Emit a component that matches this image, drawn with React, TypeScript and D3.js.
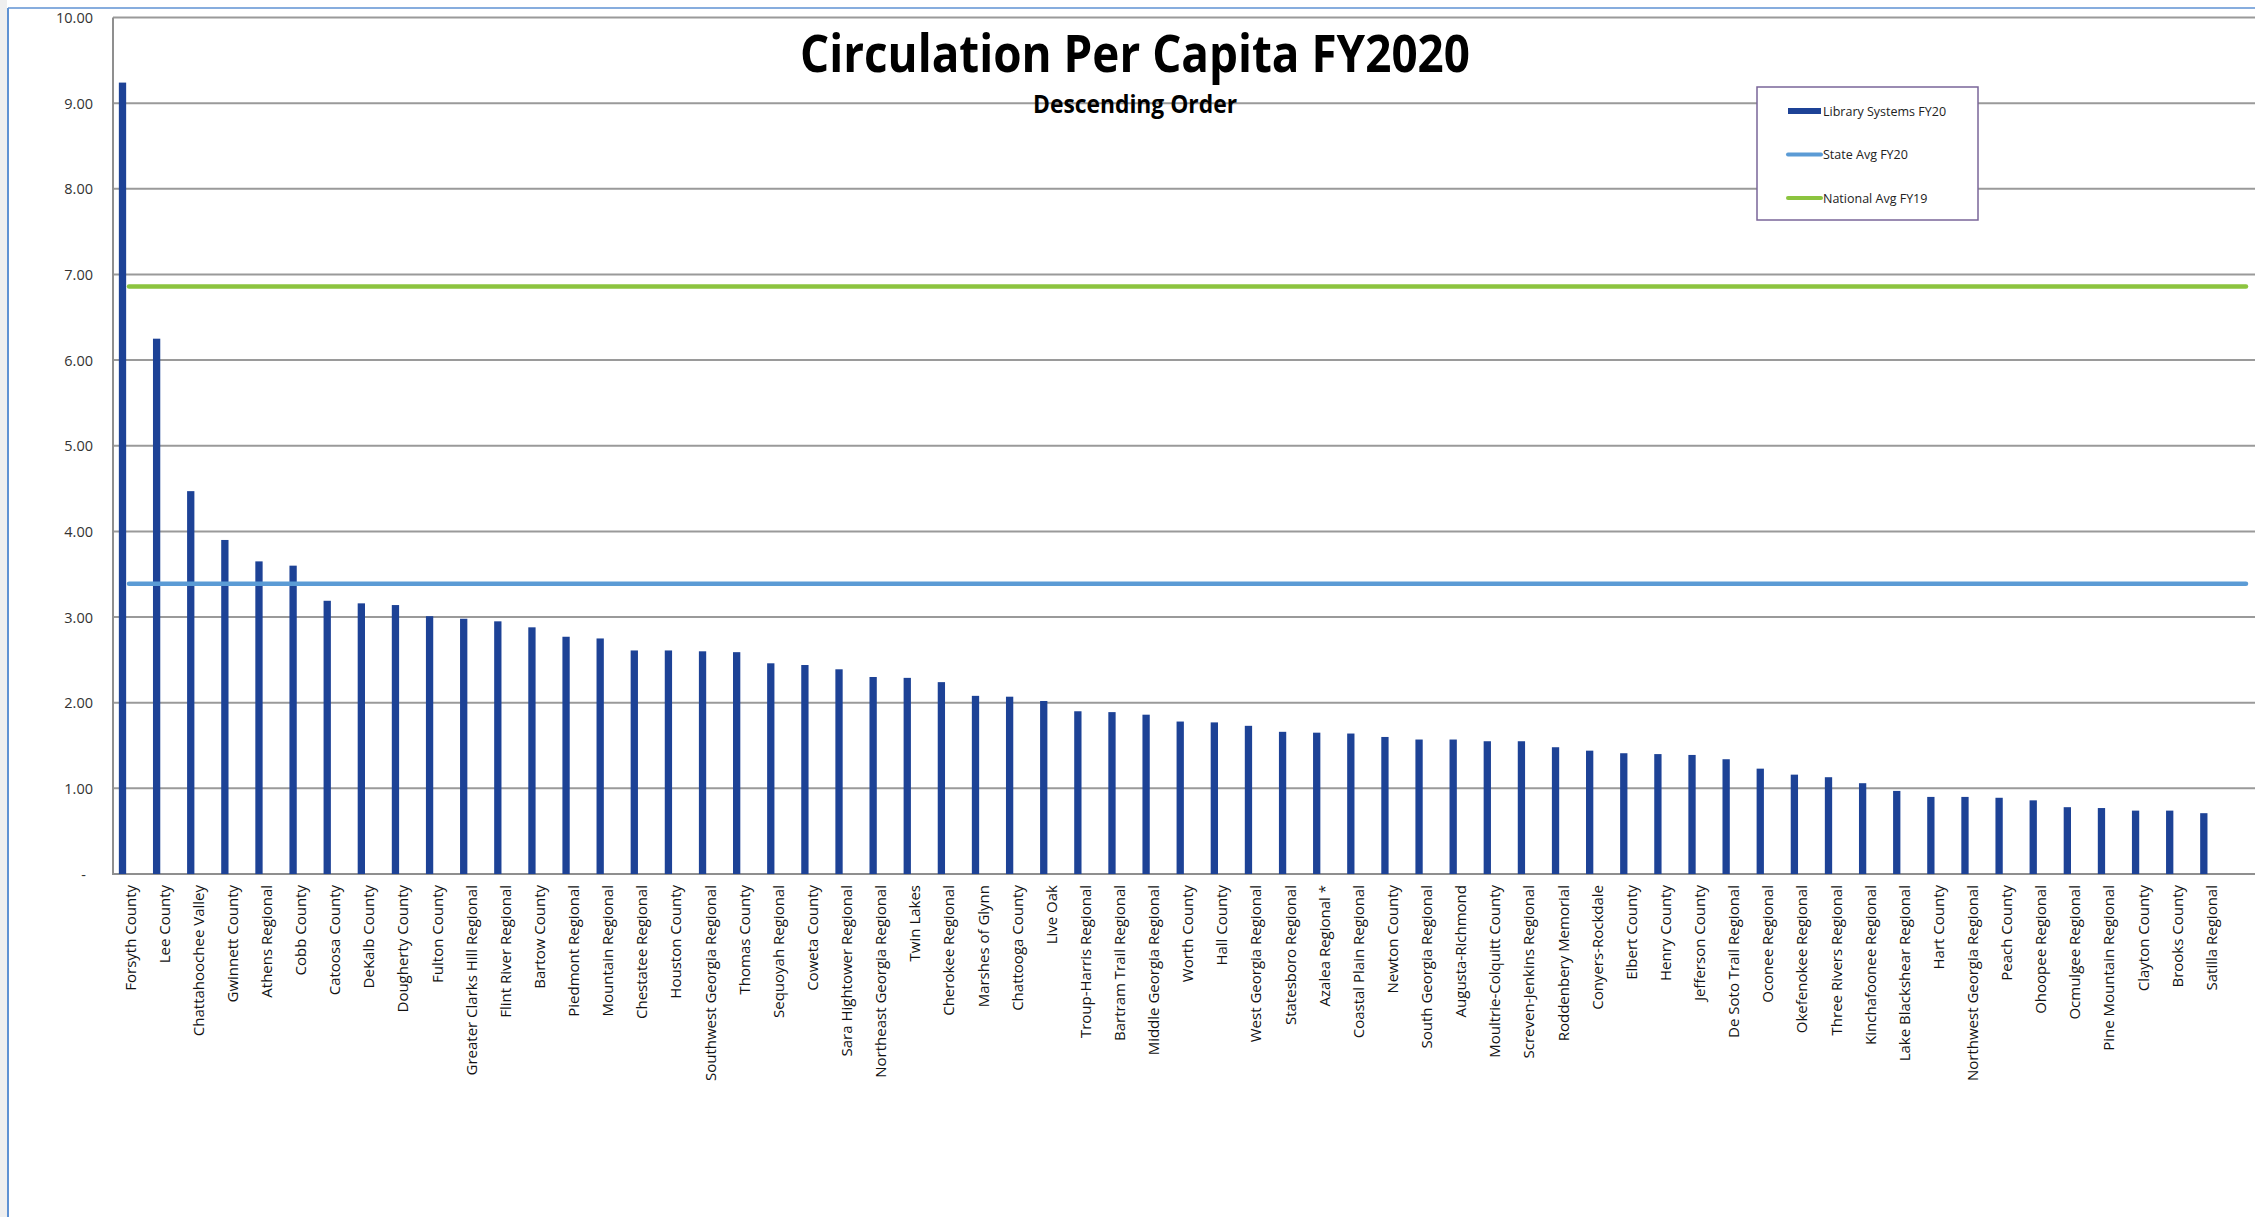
import React, { useEffect, useRef } from "react";
import * as d3 from "d3";

// Library systems, in chart order (descending)
const systems: string[] = [
  "Forsyth County", "Lee County", "Chattahoochee Valley", "Gwinnett County", "Athens Regional",
  "Cobb County", "Catoosa County", "DeKalb County", "Dougherty County", "Fulton County",
  "Greater Clarks Hill Regional", "Flint River Regional", "Bartow County", "Piedmont Regional",
  "Mountain Regional", "Chestatee Regional", "Houston County", "Southwest Georgia Regional",
  "Thomas County", "Sequoyah Regional", "Coweta County", "Sara Hightower Regional",
  "Northeast Georgia Regional", "Twin Lakes", "Cherokee Regional", "Marshes of Glynn",
  "Chattooga County", "Live Oak", "Troup-Harris Regional", "Bartram Trail Regional",
  "Middle Georgia Regional", "Worth County", "Hall County", "West Georgia Regional",
  "Statesboro Regional", "Azalea Regional *", "Coastal Plain Regional", "Newton County",
  "South Georgia Regional", "Augusta-Richmond", "Moultrie-Colquitt County",
  "Screven-Jenkins Regional", "Roddenbery Memorial", "Conyers-Rockdale", "Elbert County",
  "Henry County", "Jefferson County", "De Soto Trail Regional", "Oconee  Regional",
  "Okefenokee Regional", "Three Rivers Regional", "Kinchafoonee Regional",
  "Lake Blackshear Regional", "Hart County", "Northwest Georgia Regional", "Peach County",
  "Ohoopee Regional", "Ocmulgee Regional", "Pine Mountain Regional", "Clayton County",
  "Brooks County", "Satilla Regional",
];

// Circulation per capita FY20
const circPerCapita: number[] = [
  9.24, 6.25, 4.47, 3.9, 3.65, 3.6, 3.19, 3.16, 3.14, 3.01,
  2.98, 2.95, 2.88, 2.77, 2.75, 2.61, 2.61, 2.6, 2.59, 2.46,
  2.44, 2.39, 2.3, 2.29, 2.24, 2.08, 2.07, 2.02, 1.9, 1.89,
  1.86, 1.78, 1.77, 1.73, 1.66, 1.65, 1.64, 1.6, 1.57, 1.57,
  1.55, 1.55, 1.48, 1.44, 1.41, 1.4, 1.39, 1.34, 1.23, 1.16,
  1.13, 1.06, 0.97, 0.9, 0.9, 0.89, 0.86, 0.78, 0.77, 0.74,
  0.74, 0.71,
];

const stateAvgFY20 = 3.39;
const nationalAvgFY19 = 6.86;

const yTicks: number[] = [0, 1, 2, 3, 4, 5, 6, 7, 8, 9, 10];

const legendItems: { label: string; kind: string; color: string }[] = [
  { label: "Library Systems FY20", kind: "bar", color: "#1d4296" },
  { label: "State Avg FY20", kind: "line", color: "#5b9bd5" },
  { label: "National Avg FY19", kind: "line", color: "#8cc43f" },
];

const W = 2255;
const H = 1217;

const App: React.FC = () => {
  const ref = useRef<SVGSVGElement | null>(null);

  useEffect(() => {
    if (!ref.current) return;
    const svg = d3.select(ref.current);
    svg.selectAll("*").remove();

    const font = "'Open Sans', Calibri, sans-serif";
    const plotLeft = 113;
    const plotTop = 17.5;
    const plotBottom = 874;
    const step = 34.12;
    const bandStart = 122.5 - step / 2;

    // frame of the sheet
    svg.append("rect").attr("width", W).attr("height", H).attr("fill", "#fff");
    svg.append("rect").attr("x", 0).attr("y", 0).attr("width", 7).attr("height", H).attr("fill", "#efefef");
    svg.append("line").attr("x1", 8).attr("x2", 8).attr("y1", 8).attr("y2", H)
      .attr("stroke", "#5f92d3").attr("stroke-width", 2);
    svg.append("line").attr("x1", 8).attr("x2", W).attr("y1", 8).attr("y2", 8)
      .attr("stroke", "#5f92d3").attr("stroke-width", 1.5);

    const x = d3
      .scaleBand<string>()
      .domain(systems)
      .range([bandStart, bandStart + step * systems.length])
      .paddingInner(0.786)
      .paddingOuter(0.393);

    const y = d3.scaleLinear().domain([0, 10]).range([plotBottom, plotTop]);

    // gridlines
    svg.append("g")
      .selectAll("line")
      .data(yTicks)
      .join("line")
      .attr("x1", plotLeft)
      .attr("x2", W)
      .attr("y1", (d) => y(d))
      .attr("y2", (d) => y(d))
      .attr("stroke", (d) => (d === 0 ? "#8f8f8f" : "#9a9a9a"))
      .attr("stroke-width", 2);

    // y axis line
    svg.append("line")
      .attr("x1", plotLeft).attr("x2", plotLeft)
      .attr("y1", plotTop).attr("y2", plotBottom + 1)
      .attr("stroke", "#8f8f8f").attr("stroke-width", 2);

    // y tick labels
    svg.append("g")
      .selectAll("text")
      .data(yTicks)
      .join("text")
      .attr("x", (d) => (d === 0 ? 86 : 93))
      .attr("y", (d) => y(d))
      .attr("text-anchor", "end")
      .attr("dominant-baseline", "central")
      .style("font-family", font)
      .style("font-size", "14.5px")
      .attr("fill", "#333")
      .text((d) => (d === 0 ? "-" : d3.format(".2f")(d)));

    // bars
    svg.append("g")
      .selectAll("rect")
      .data(circPerCapita)
      .join("rect")
      .attr("x", (_, i) => x(systems[i])!)
      .attr("y", (d) => y(d))
      .attr("width", x.bandwidth())
      .attr("height", (d) => plotBottom - y(d))
      .attr("fill", "#1d4296");

    // average lines
    const lineX0 = plotLeft + 16;
    const lineX1 = W - 9;
    svg.append("line")
      .attr("x1", lineX0).attr("x2", lineX1)
      .attr("y1", y(stateAvgFY20)).attr("y2", y(stateAvgFY20))
      .attr("stroke", "#5b9bd5").attr("stroke-width", 4.5).attr("stroke-linecap", "round");
    svg.append("line")
      .attr("x1", lineX0).attr("x2", lineX1)
      .attr("y1", y(nationalAvgFY19)).attr("y2", y(nationalAvgFY19))
      .attr("stroke", "#8cc43f").attr("stroke-width", 4.5).attr("stroke-linecap", "round");

    // category labels (rotated)
    svg.append("g")
      .selectAll("text")
      .data(systems)
      .join("text")
      .attr("transform", (d) => `translate(${x(d)! + x.bandwidth() / 2 + 13},${plotBottom + 11}) rotate(-90)`)
      .attr("text-anchor", "end")
      .style("font-family", font)
      .style("font-size", "15px")
      .attr("fill", "#111")
      .text((d) => d);

    // title
    svg.append("text")
      .attr("x", 1135)
      .attr("y", 72)
      .attr("text-anchor", "middle")
      .attr("textLength", 670)
      .attr("lengthAdjust", "spacingAndGlyphs")
      .style("font-family", font)
      .style("font-size", "52px")
      .style("font-weight", "bold")
      .attr("fill", "#000")
      .text("Circulation Per Capita FY2020");

    svg.append("text")
      .attr("x", 1135)
      .attr("y", 113)
      .attr("text-anchor", "middle")
      .attr("textLength", 204)
      .attr("lengthAdjust", "spacingAndGlyphs")
      .style("font-family", font)
      .style("font-size", "25px")
      .style("font-weight", "bold")
      .attr("fill", "#000")
      .text("Descending Order");

    // legend
    const lg = svg.append("g").attr("transform", "translate(1757,87)");
    lg.append("rect")
      .attr("width", 221).attr("height", 133)
      .attr("fill", "#fff").attr("stroke", "#7a6699").attr("stroke-width", 1.5);
    const rows = lg.selectAll("g.item")
      .data(legendItems)
      .join("g")
      .attr("class", "item")
      .attr("transform", (_, i) => `translate(0,${24 + i * 43.5})`);
    rows.each(function (d) {
      const g = d3.select(this);
      if (d.kind === "bar") {
        g.append("rect").attr("x", 31).attr("y", -3).attr("width", 33).attr("height", 6).attr("fill", d.color);
      } else {
        g.append("line").attr("x1", 31).attr("x2", 64).attr("y1", 0).attr("y2", 0)
          .attr("stroke", d.color).attr("stroke-width", 4).attr("stroke-linecap", "round");
      }
    });
    rows.append("text")
      .attr("x", 66)
      .attr("y", 0)
      .attr("dominant-baseline", "central")
      .style("font-family", font)
      .style("font-size", "12.5px")
      .attr("fill", "#222")
      .text((d) => d.label);
  }, []);

  return (
    <svg
      ref={ref}
      width={W}
      height={H}
      style={{ position: "absolute", left: 0, top: 0, display: "block" }}
    ></svg>
  );
};

export default App;
